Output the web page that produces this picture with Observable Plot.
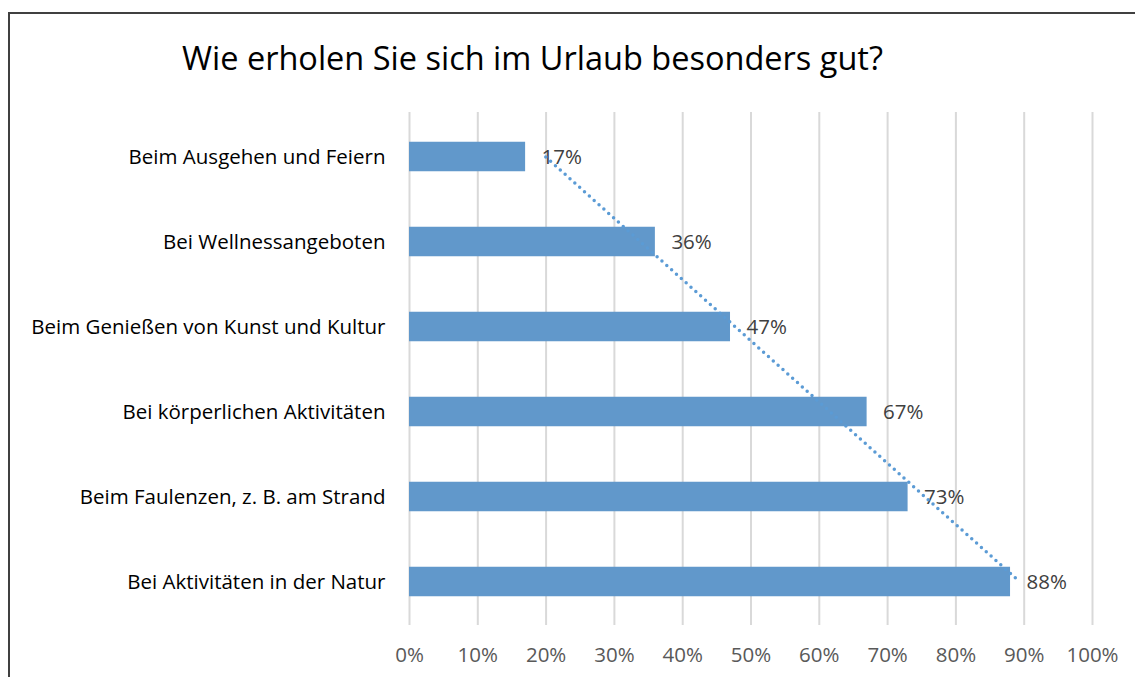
<!DOCTYPE html>
<html><head><meta charset="utf-8">
<script src="https://cdn.jsdelivr.net/npm/d3@7"></script>
<script src="https://cdn.jsdelivr.net/npm/@observablehq/plot@0.6"></script>
<style>
html,body{margin:0;padding:0;background:#fff;overflow:hidden;width:1135px;height:677px;}
#wrap{position:relative;width:1135px;height:677px;font-family:"Open Sans",sans-serif;}
#frame{position:absolute;left:8px;top:12px;width:1200px;height:800px;border:2px solid #404040;box-sizing:border-box;}
#title{position:absolute;left:0;top:35px;width:1065px;text-align:center;font-size:32.5px;color:#000;}
#chart{position:absolute;left:0;top:0;}
</style></head>
<body><div id="wrap"><div id="frame"></div><div id="title">Wie erholen Sie sich im Urlaub besonders gut?</div><div id="chart"></div></div>
<script>
const categories = ["Beim Ausgehen und Feiern","Bei Wellnessangeboten","Beim Genießen von Kunst und Kultur","Bei körperlichen Aktivitäten","Beim Faulenzen, z. B. am Strand","Bei Aktivitäten in der Natur"];
const values = [0.17,0.36,0.47,0.67,0.73,0.88];
const xTicks = [0,0.1,0.2,0.3,0.4,0.5,0.6,0.7,0.8,0.9,1.0];

const data = categories.map((c,i)=>({cat:c, v:values[i]}));
// linear trendline (least squares over category index)
const n = values.length;
const idx = values.map((_,i)=>i+1);
const mi = d3.mean(idx), mv = d3.mean(values);
const slope = d3.sum(idx.map((x,i)=>(x-mi)*(values[i]-mv))) / d3.sum(idx.map(x=>(x-mi)**2));
const trend = [{cat:categories[0], v: mv + slope*(1-mi)}, {cat:categories[n-1], v: mv + slope*(n-mi)}];

const fmt = d3.format(".0%");
const fs = 20.5;
const plot = Plot.plot({
  width:1135, height:677,
  marginTop:112, marginBottom:52, marginLeft:409, marginRight:43,
  style:{fontFamily:"Open Sans, sans-serif", fontSize:fs+"px", background:"transparent", overflow:"visible"},
  x:{domain:[0,1], ticks:xTicks, tickFormat:fmt, label:null},
  y:{domain:categories, padding:0, label:null},
  marks:[
    Plot.ruleX(xTicks, {x:d=>d, stroke:"#d9d9d9", strokeWidth:2}),
    Plot.barX(data, {x:"v", y:"cat", fill:"#6198cb", insetTop:27.75, insetBottom:27.75}),
    Plot.text(data, {x:"v", y:"cat", text:d=>fmt(d.v), textAnchor:"start", dx:16, fill:"#404040", fontSize:fs}),
    Plot.line(trend, {x:"v", y:"cat", stroke:"#5b9bd5", strokeWidth:3.5, strokeDasharray:"0,6.5", strokeLinecap:"round"}),
    Plot.axisX({ticks:xTicks, tickFormat:fmt, tickSize:0, tickPadding:22, color:"#595959", fontSize:fs}),
    Plot.axisY({tickSize:0, tickPadding:24, color:"#000", fontSize:fs})
  ]
});
document.getElementById("chart").appendChild(plot);
</script></body></html>
